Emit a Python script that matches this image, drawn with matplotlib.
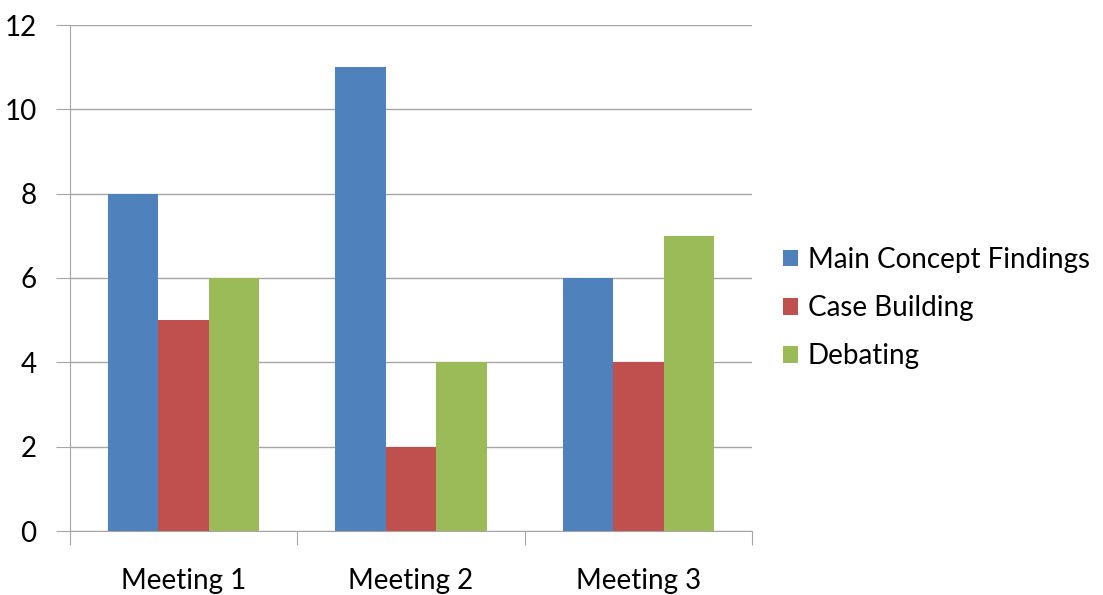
#!/usr/bin/env python3
"""Clustered bar chart of activity counts per meeting."""

import matplotlib
matplotlib.use("Agg")
import matplotlib.pyplot as plt
import numpy as np

MEETINGS = ["Meeting 1", "Meeting 2", "Meeting 3"]
SERIES = ["Main Concept Findings", "Case Building", "Debating"]
MAIN_CONCEPT = [8, 11, 6]
CASE_BUILDING = [5, 2, 4]
DEBATING = [6, 4, 7]
COLORS = ["#4F81BD", "#C0504D", "#9BBB59"]
GRID = "#A6A6A6"

plt.rcParams["font.family"] = ["Lato", "DejaVu Sans"]

fig = plt.figure(figsize=(11.03, 5.95), dpi=100)
ax = fig.add_axes([70 / 1103, 64 / 595, 682 / 1103, 506 / 595])

x = np.arange(len(MEETINGS))
w = 0.222
for i, (name, vals) in enumerate(zip(SERIES, [MAIN_CONCEPT, CASE_BUILDING, DEBATING])):
    ax.bar(x + (i - 1) * w, vals, width=w, color=COLORS[i], label=name, zorder=3)

ax.set_xlim(-0.5, len(MEETINGS) - 0.5)
ax.set_ylim(0, 12)
ax.set_yticks(range(0, 13, 2))
ax.yaxis.grid(True, color=GRID, lw=1, zorder=0)

# category boundaries carry the x tick marks, labels sit at centres
ax.set_xticks(np.arange(-0.5, len(MEETINGS)), minor=False)
ax.set_xticklabels([])
ax.set_xticks(x, minor=True)
ax.set_xticklabels(MEETINGS, minor=True)
ax.tick_params(axis="x", which="major", length=10, color=GRID, direction="out")
ax.tick_params(axis="x", which="minor", length=0, pad=27, labelsize=20)
ax.tick_params(axis="y", length=10, color=GRID, pad=14, labelsize=20)

for s in ("top", "right"):
    ax.spines[s].set_visible(False)
for s in ("left", "bottom"):
    ax.spines[s].set_color(GRID)

fig.legend(
    loc="center left",
    bbox_to_anchor=(758 / 1103, 1 - 308 / 595),
    frameon=False,
    fontsize=20,
    handlelength=0.55,
    handleheight=0.55,
    handletextpad=0.35,
    labelspacing=0.8,
)

fig.savefig("out.png", dpi=100)
